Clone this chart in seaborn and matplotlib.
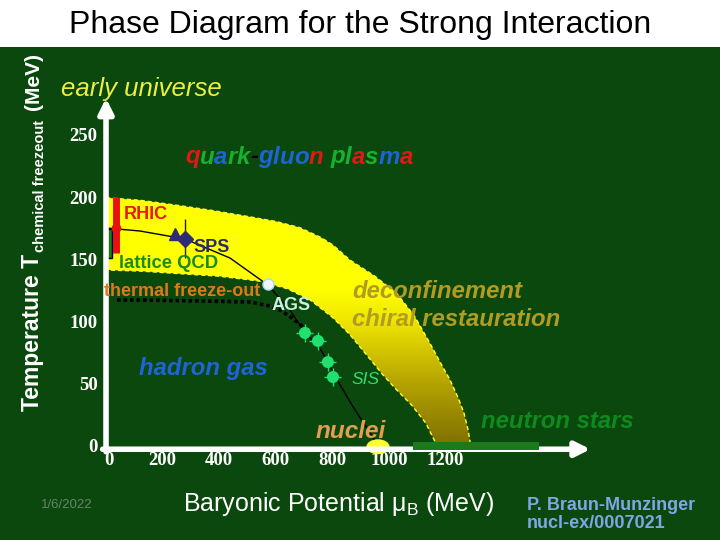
import numpy as np
import pandas as pd
import matplotlib
matplotlib.use("Agg")
import matplotlib.pyplot as plt
from matplotlib.patches import Polygon, Rectangle, Ellipse
from matplotlib.colors import LinearSegmentedColormap
import seaborn as sns

# ---- data (mu_B in MeV, T in MeV) ----
band_outer_mu = [0, 120, 250, 370, 500, 600, 685, 760, 802, 862, 950, 1028, 1090, 1145, 1190, 1215, 1245, 1265, 1280, 1290]
band_outer_T = [201, 199, 195, 191, 186, 182, 177, 169, 163, 151, 138, 124, 106, 84, 65, 55, 40, 28, 14, 0]
band_inner_mu = [0, 130, 261, 400, 544, 640, 721, 800, 862, 920, 979, 1030, 1080, 1130, 1165, 1175]
band_inner_T = [143, 142, 140, 138, 134, 128, 119, 105, 91, 75, 58.6, 46, 34.5, 20, 4, 0]

chem_mu = [0, 120, 279, 438, 572, 650, 703, 749, 784, 827, 880, 961]
chem_T = [176.7, 174.3, 167.9, 152.6, 130.9, 110.8, 92.4, 82.7, 69.1, 50.6, 30.5, 2.4]

thermal_mu = [39, 150, 332, 509, 580, 615, 660, 696]
thermal_T = [118.9, 118.8, 118.1, 117.3, 114, 110.8, 104, 97.2]

sis_mu = [703, 749, 784, 802]
sis_T = [92.4, 86, 69, 57]

rhic_mu, rhic_T, rhic_lo, rhic_hi = 35, 176.7, 157, 201.6
sps_mu, sps_T, sps_lo, sps_hi = 279, 168, 153, 184
sps2_mu, sps2_T = 244, 172
ags_mu, ags_T = 572, 132
lattice_mu = [0, 22]
lattice_T = [153, 176]
nuclei_mu, nuclei_T = 961, 1
nstar_mu = [1085, 1530]

x_ticks = [0, 200, 400, 600, 800, 1000, 1200]
y_ticks = [0, 50, 100, 150, 200, 250]

sns.set_theme(style="white")
plt.rcParams["font.family"] = ["Liberation Sans", "DejaVu Sans"]
plt.rcParams["mathtext.fontset"] = "custom"
plt.rcParams["mathtext.rm"] = "Liberation Sans"
plt.rcParams["mathtext.it"] = "Liberation Sans:italic"

BG = "#0b480d"
fig = plt.figure(figsize=(7.2, 5.4), dpi=100, facecolor="white")
fig.patches.append(Rectangle((0, 0), 1, 1 - 47 / 540, transform=fig.transFigure,
                             facecolor=BG, edgecolor="none", zorder=-5))

ax = fig.add_axes([0, 0, 1, 1 - 47 / 540])
ax.patch.set_alpha(0)
ax.axis("off")


def px(x):
    return x / 720


def py(y):
    return 1 - y / 540


# freeze-out band with vertical gradient
band_xy = list(zip(band_outer_mu, band_outer_T)) + list(zip(band_inner_mu[::-1], band_inner_T[::-1]))
cmap = LinearSegmentedColormap.from_list(
    "band", [(0, "#7d6d00"), (0.25, "#b4a200"), (0.5, "#efe600"), (0.62, "#ffff00"), (1, "#ffff00")])
grad = np.linspace(0, 1, 256).reshape(-1, 1)
im = ax.imshow(grad, extent=[0, 1300, 0, 205], origin="lower", cmap=cmap, aspect="auto", zorder=1)
clip = Polygon(band_xy, closed=True, facecolor="none", edgecolor="#ffff30", lw=1.0, ls=(0, (3, 2)), zorder=1.5)
ax.add_patch(clip)
im.set_clip_path(clip)

# curves
sns.lineplot(x=chem_mu, y=chem_T, sort=False, estimator=None, color="black", lw=1, ax=ax, zorder=3)
sns.lineplot(x=thermal_mu, y=thermal_T, sort=False, estimator=None, color="black", lw=2.6,
             ls=(0, (1, 0.8)), ax=ax, zorder=3)

# lattice QCD box
ax.add_patch(Rectangle((lattice_mu[0], lattice_T[0]), lattice_mu[1] - lattice_mu[0], lattice_T[1] - lattice_T[0],
                       facecolor="#1c7a1c", edgecolor="black", lw=1, zorder=3))

# RHIC
ax.errorbar(rhic_mu, rhic_T, yerr=[[rhic_T - rhic_lo], [rhic_hi - rhic_T]], xerr=12, fmt="o",
            color="#e81010", ms=6, elinewidth=5, capsize=0, zorder=4)
# SPS
ax.errorbar(sps_mu, sps_T, yerr=[[sps_T - sps_lo], [sps_hi - sps_T]], fmt="D", color="#2c2c78",
            ecolor="#202040", ms=8, elinewidth=1, zorder=4)
ax.plot(sps2_mu, sps2_T, marker="^", color="#2c2c78", ms=8, zorder=4)
# AGS
ax.plot(ags_mu, ags_T, marker="o", color="#eef6f6", mec="#a8d8e8", ms=8, zorder=4)
# SIS
ax.errorbar(sis_mu, sis_T, xerr=30, yerr=7, fmt="none", ecolor="#22e070", elinewidth=1, zorder=4)
sns.scatterplot(x=sis_mu, y=sis_T, color="#22e070", s=75, edgecolor="none", ax=ax, zorder=4)
# nuclei
ax.add_patch(Ellipse((nuclei_mu, nuclei_T), 82, 12, facecolor="#ffff30", edgecolor="none", zorder=4))

# axes with arrows
ax.annotate("", xy=(0, 281), xytext=(0, -3),
            arrowprops=dict(arrowstyle="-|>", color="white", lw=4, mutation_scale=22, shrinkA=0, shrinkB=0),
            zorder=5)
ax.annotate("", xy=(1712, -1), xytext=(-12, -1),
            arrowprops=dict(arrowstyle="-|>", color="white", lw=4, mutation_scale=22, shrinkA=0, shrinkB=0),
            zorder=5)
ax.vlines(x_ticks[1:], -4, -1, color="white", lw=1, zorder=5)

# neutron star bar
ax.add_patch(Rectangle((nstar_mu[0], -1.5), nstar_mu[1] - nstar_mu[0], 6.5,
                       facecolor="#1c7a1c", edgecolor="none", zorder=6))

ax.set_xlim(-374.6, 2169.6)
ax.set_ylim(-73.9, 322.1)

tick_font = dict(family="Liberation Serif", weight="bold", color="white", size=13.5)
for t in y_ticks:
    ax.text(-30, t, str(t), ha="right", va="center", **tick_font)
for m in x_ticks:
    ax.text(m + 10 if m == 0 else m, -10, str(m), ha="center", va="center", **tick_font)

# titles and labels
fig.text(0.5, py(25), "Phase Diagram for the Strong Interaction", ha="center", va="center",
         size=23, color="black")
fig.text(px(33), py(411), "Temperature T", rotation=90, ha="center", va="bottom",
         size=16.5, weight="bold", color="white")
fig.text(px(40), py(252), "chemical freezeout", rotation=90, ha="center", va="bottom",
         size=10.5, weight="bold", color="white")
fig.text(px(33), py(110), "(MeV)", rotation=90, ha="center", va="bottom",
         size=15, weight="bold", color="white")


def label(x, y, s, color, size, style="normal", weight="bold"):
    fig.text(px(x), py(y), s, ha="left", va="center", color=color, size=size,
             style=style, weight=weight, zorder=7)


label(61, 89, "early universe", "#eef040", 18.5, style="italic", weight="normal")
label(124, 214, "RHIC", "#e81818", 13)
label(193, 248, "SPS", "#2a2a70", 13)
label(119, 264, "lattice QCD", "#1a8a1a", 13.3)
label(104, 291, "thermal freeze-out", "#e07818", 13)
label(272, 306, "AGS", "#c8f0e0", 13)
label(352, 291, "deconfinement", "#b09c22", 17.2, style="italic")
label(352, 320, "chiral restauration", "#b09c22", 17.2, style="italic")
label(139, 368, "hadron gas", "#1f63d8", 17.2, style="italic")
label(352, 380, "SIS", "#30e070", 12.5, style="italic", weight="normal")
label(316, 432, "nuclei", "#e0a050", 17.5, style="italic")
label(481, 421, "neutron stars", "#0f8a1f", 17.2, style="italic")
label(41, 505, "1/6/2022", "#6b806b", 9.5, weight="normal")
label(183, 504, r"Baryonic Potential μ$_{\mathrm{B}}$ (MeV)", "white", 18, weight="normal")
label(527, 505, "P. Braun-Munzinger", "#7fa6e6", 13)
label(527, 523, "nucl-ex/0007021", "#7fa6e6", 13)

# multicoloured "quark-gluon plasma"
qgp = "quark-gluon plasma"
R, G, B, K = "#e01818", "#18b030", "#1f63d8", "black"
qgp_colors = [R, G, B, G, G, K, B, B, B, B, R, None, G, G, R, G, B, R]
renderer = fig.canvas.get_renderer()
qkw = dict(size=17.3, style="italic", weight="bold", ha="left", va="center")


def width(s):
    t = fig.text(0, 0, s, **qkw)
    w = t.get_window_extent(renderer).width
    t.remove()
    return w


x0 = 185
for i, (ch, c) in enumerate(zip(qgp, qgp_colors)):
    if ch == " ":
        continue
    off = width(qgp[:i + 1]) - width(ch)
    fig.text(px(x0 + off), py(157), ch, color=c, zorder=7, **qkw)

fig.savefig("out.png", dpi=100, facecolor="white")
